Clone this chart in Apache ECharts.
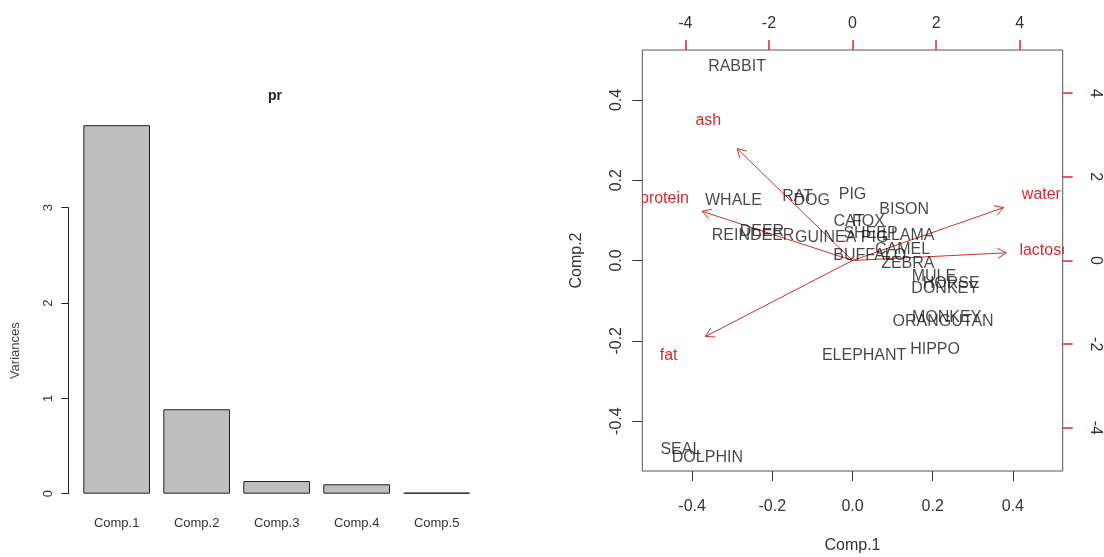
<!DOCTYPE html>
<html><head><meta charset="utf-8">
<script src="https://cdn.jsdelivr.net/npm/echarts@6/dist/echarts.min.js"></script>
<style>html,body{margin:0;padding:0;background:#fff}#c{width:1104px;height:557px}</style>
</head><body><div id="c"></div>
<script>
// ---- Scree plot data ----
const components = ['Comp.1', 'Comp.2', 'Comp.3', 'Comp.4', 'Comp.5'];
const variances = [3.866, 0.886, 0.133, 0.099, 0.011];
const varianceTicks = [0, 1, 2, 3];

// ---- Biplot data: observation scores ----
const animals = ['RABBIT','WHALE','RAT','DOG','PIG','BISON','CAT','FOX','REINDEER','DEER','GUINEA PIG','SHEEP','LLAMA','CAMEL','BUFFALO','ZEBRA','MULE','HORSE','DONKEY','MONKEY','ORANGUTAN','HIPPO','ELEPHANT','SEAL','DOLPHIN'];
const comp1Scores = [-0.288,-0.297,-0.137,-0.102,0.000,0.129,-0.009,0.040,-0.248,-0.226,-0.027,0.045,0.139,0.125,0.043,0.138,0.203,0.246,0.231,0.235,0.226,0.206,0.029,-0.428,-0.362];
const comp2Scores = [0.482,0.150,0.160,0.148,0.163,0.127,0.096,0.096,0.061,0.073,0.057,0.067,0.061,0.027,0.013,-0.008,-0.041,-0.057,-0.070,-0.141,-0.153,-0.222,-0.236,-0.472,-0.491];

// ---- Biplot data: variable loadings ----
const variables = ['water', 'protein', 'fat', 'lactose', 'ash'];
const loading1 = [4.52, -4.50, -4.40, 4.60, -3.45];
const loading2 = [1.58, 1.47, -2.27, 0.23, 3.34];

// ---- Tick labels ----
const scoreTicks = [-0.4, -0.2, 0, 0.2, 0.4];
const loadingTicks = [-4, -2, 0, 2, 4];

const ARROW_SHRINK = 0.8; // R biplot draws arrows to 0.8 x loading, labels at loading
const FONT = '"Liberation Sans", Arial, Helvetica, sans-serif';
const RED_LINE = '#c9302f';
const RED_TEXT = '#d8282f';
const RED_TICK = '#e02626';
const DARK = '#1a1a1a';

const chart = echarts.init(document.getElementById('c'), null, {renderer: 'canvas'});

function renderArrow(params, api) {
  const lx = api.value(0), ly = api.value(1);
  const o = api.coord([0, 0]);
  const t = api.coord([lx * ARROW_SHRINK, ly * ARROW_SHRINK]);
  const p = api.coord([lx, ly]);
  const ang = Math.atan2(t[1] - o[1], t[0] - o[0]);
  const L = 10, a = Math.PI / 6;
  const h1 = [t[0] - L * Math.cos(ang - a), t[1] - L * Math.sin(ang - a)];
  const h2 = [t[0] - L * Math.cos(ang + a), t[1] - L * Math.sin(ang + a)];
  return {
    type: 'group',
    children: [
      {type: 'line', shape: {x1: o[0], y1: o[1], x2: t[0], y2: t[1]}, style: {stroke: RED_LINE, lineWidth: 1}},
      {type: 'polyline', shape: {points: [h1, t, h2]}, style: {stroke: RED_LINE, fill: 'none', lineWidth: 1}},
      {type: 'text', x: p[0], y: p[1], style: {text: variables[params.dataIndex], fill: RED_TEXT, font: '16px ' + FONT, align: 'center', verticalAlign: 'middle'}}
    ]
  };
}

const option = {
  animation: false,
  backgroundColor: '#ffffff',
  textStyle: {fontFamily: FONT},
  title: {
    text: 'pr', left: 268, top: 89, padding: 0,
    textStyle: {fontSize: 14, fontWeight: 'bold', color: '#222', fontFamily: FONT}
  },
  grid: [
    {left: 76.67, width: 400, top: 207.7, bottom: 63.3, outerBoundsMode: 'none', containLabel: false},
    {left: 642.3, width: 420.4, top: 50, height: 421, outerBoundsMode: 'none', containLabel: false,
     show: true, borderColor: '#555', borderWidth: 1, backgroundColor: 'transparent'}
  ],
  xAxis: [
    {
      type: 'category', gridIndex: 0, data: components,
      axisLine: {show: false}, axisTick: {show: false},
      axisLabel: {fontSize: 13, color: '#333', margin: 23, fontFamily: FONT}
    },
    {
      type: 'value', gridIndex: 1, position: 'bottom', min: -0.5243, max: 0.5243,
      axisLine: {show: false, onZero: false}, splitLine: {show: false},
      axisTick: {show: true, length: 10, customValues: scoreTicks, lineStyle: {color: '#333'}},
      axisLabel: {customValues: scoreTicks, formatter: v => v.toFixed(1), fontSize: 16, color: '#333', margin: 28, fontFamily: FONT},
      name: 'Comp.1', nameLocation: 'middle', nameGap: 67,
      nameTextStyle: {fontSize: 16, color: '#333', fontFamily: FONT}
    },
    {
      type: 'value', gridIndex: 1, position: 'top', min: -5.03, max: 5.03,
      axisLine: {show: false, onZero: false}, splitLine: {show: false},
      axisTick: {show: true, length: 10, customValues: loadingTicks, lineStyle: {color: RED_TICK, width: 1.5}},
      axisLabel: {customValues: loadingTicks, fontSize: 16, color: '#333', margin: 18, fontFamily: FONT}
    }
  ],
  yAxis: [
    {
      type: 'value', gridIndex: 0, min: 0, max: 3, interval: 1, offset: 8.3,
      axisLine: {show: true, onZero: false, lineStyle: {color: '#222'}},
      axisTick: {show: true, length: 7, lineStyle: {color: '#222'}},
      axisLabel: {rotate: 90, margin: 13, fontSize: 13, color: '#333', fontFamily: FONT, customValues: varianceTicks},
      splitLine: {show: false},
      name: 'Variances', nameLocation: 'middle', nameRotate: 90, nameGap: 46,
      nameTextStyle: {fontSize: 13, color: '#444', fontFamily: FONT}
    },
    {
      type: 'value', gridIndex: 1, position: 'left', min: -0.5243, max: 0.5243,
      axisLine: {show: false, onZero: false}, splitLine: {show: false},
      axisTick: {show: true, length: 10, customValues: scoreTicks, lineStyle: {color: '#333'}},
      axisLabel: {customValues: scoreTicks, formatter: v => v.toFixed(1), rotate: 90, fontSize: 16, color: '#333', margin: 18, fontFamily: FONT},
      name: 'Comp.2', nameLocation: 'middle', nameRotate: 90, nameGap: 58,
      nameTextStyle: {fontSize: 16, color: '#333', fontFamily: FONT}
    },
    {
      type: 'value', gridIndex: 1, position: 'right', min: -5.03, max: 5.03,
      axisLine: {show: false, onZero: false}, splitLine: {show: false},
      axisTick: {show: true, length: 10, customValues: loadingTicks, lineStyle: {color: RED_TICK, width: 1.5}},
      axisLabel: {customValues: loadingTicks, rotate: -90, fontSize: 16, color: '#333', margin: 25, fontFamily: FONT}
    }
  ],
  series: [
    {
      type: 'bar', xAxisIndex: 0, yAxisIndex: 0, data: variances,
      barCategoryGap: '16.67%', clip: false,
      itemStyle: {color: '#bebebe', borderColor: '#222', borderWidth: 1}
    },
    {
      type: 'scatter', xAxisIndex: 1, yAxisIndex: 1,
      symbolSize: 1, itemStyle: {color: 'rgba(0,0,0,0)'},
      data: animals.map((n, i) => ({name: n, value: [comp1Scores[i], comp2Scores[i]]})),
      label: {show: true, position: 'inside', formatter: '{b}', fontSize: 16, color: DARK, fontFamily: FONT},
      emphasis: {disabled: true}
    },
    {
      type: 'custom', xAxisIndex: 2, yAxisIndex: 2, clip: true,
      data: variables.map((v, i) => [loading1[i], loading2[i]]),
      renderItem: renderArrow
    }
  ]
};
chart.setOption(option);
</script>
</body></html>
